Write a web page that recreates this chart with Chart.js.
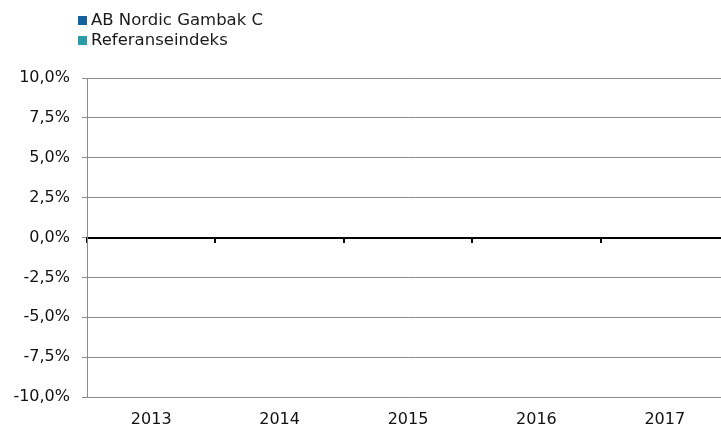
<!DOCTYPE html>
<html>
<head>
<meta charset="utf-8">
<script src="https://cdn.jsdelivr.net/npm/chart.js@4.4.1/dist/chart.umd.min.js"></script>
<style>
  html, body { margin: 0; padding: 0; background: #fff; overflow: hidden; }
  #wrap { position: relative; width: 721px; height: 428px; overflow: hidden; }
  #chart { position: absolute; left: 0; top: 0; }
  .legend { position: absolute; left: 78px; top: 10px; font-family: "DejaVu Sans", sans-serif; font-size: 16.5px; color: #1a1a1a; }
  .legend div { height: 20px; line-height: 20px; white-space: nowrap; }
  .legend span { display: inline-block; width: 9px; height: 9px; margin-right: 4px; vertical-align: 0px; }
</style>
</head>
<body>
<div id="wrap">
  <canvas id="chart" width="740" height="428"></canvas>
  <div class="legend" id="legend"></div>
</div>
<script>
const years = ["2013", "2014", "2015", "2016", "2017"];
const fundName = "AB Nordic Gambak C";
const indexName = "Referanseindeks";
// no bars are drawn in the picture
const fundReturns = [null, null, null, null, null];
const indexReturns = [null, null, null, null, null];
const yTicks = [-10, -7.5, -5, -2.5, 0, 2.5, 5, 7.5, 10];

const fundColor = "#17609e";
const indexColor = "#2a9da9";
const gridColor = "#8c8c8c";
const font = { family: "'DejaVu Sans', sans-serif", size: 16 };

function pct(v) {
  return v.toFixed(1).replace(".", ",") + "%";
}

const config = {
  type: "bar",
  data: {
    labels: years,
    datasets: [
      { label: fundName, data: fundReturns, backgroundColor: fundColor },
      { label: indexName, data: indexReturns, backgroundColor: indexColor },
    ],
  },
  options: {
    responsive: false,
    animation: false,
    layout: { padding: { top: 78, right: 11, left: 0, bottom: 0 } },
    plugins: {
      legend: { display: false },
      tooltip: { enabled: false },
    },
    scales: {
      x: {
        position: "bottom",
        grid: { display: false, drawTicks: false },
        border: { color: gridColor, width: 1 },
        ticks: { color: "#111", font: font, padding: 13, maxRotation: 0 },
        afterFit: (s) => { s.height = 31; },
      },
      xZero: {
        type: "category",
        position: { y: 0 },
        grid: { drawOnChartArea: false, drawTicks: true, tickLength: 4, color: "#000", lineWidth: 2, offset: true },
        border: { color: "#000", width: 2 },
        ticks: { display: false },
      },
      y: {
        min: yTicks[0],
        max: yTicks[yTicks.length - 1],
        afterBuildTicks: (s) => { s.ticks = yTicks.map((v) => ({ value: v })); },
        grid: { color: gridColor, lineWidth: 1, drawTicks: true, tickLength: 5 },
        border: { color: gridColor, width: 1 },
        ticks: { color: "#111", font: font, padding: 12, callback: (v) => pct(v) },
        afterFit: (s) => { s.width = 87; },
      },
    },
  },
};

const chart = new Chart(document.getElementById("chart"), config);

// legend stacked like the original
const legend = document.getElementById("legend");
chart.data.datasets.forEach((ds) => {
  const row = document.createElement("div");
  row.innerHTML = `<span style="background:${ds.backgroundColor}"></span>${ds.label}`;
  legend.appendChild(row);
});
</script>
</body>
</html>
